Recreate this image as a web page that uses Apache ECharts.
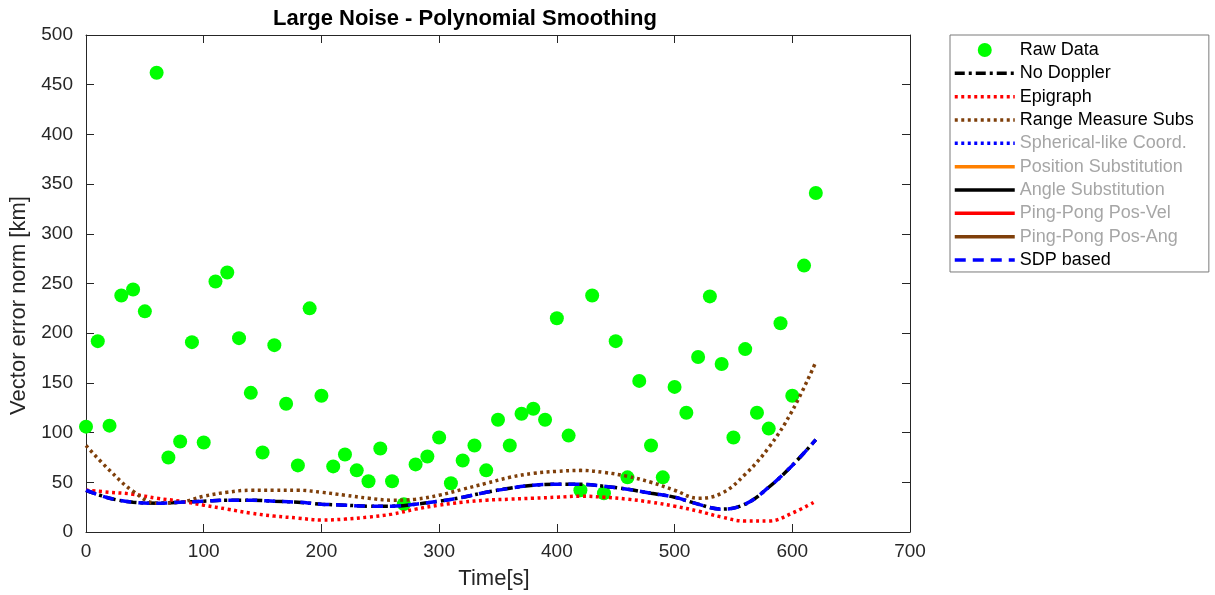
<!DOCTYPE html>
<html>
<head>
<meta charset="utf-8">
<script src="https://cdn.jsdelivr.net/npm/echarts@6/dist/echarts.min.js"></script>
<style>
html,body{margin:0;padding:0;background:#fff;}
#chart{width:1215px;height:595px;}
</style>
</head>
<body>
<div id="chart"></div>
<script>
// ---- data ----
var rawTimes = [0,10,20,30,40,50,60,70,80,90,100,110,120,130,140,150,160,170,180,190,200,210,220,230,240,250,260,270,280,290,300,310,320,330,340,350,360,370,380,390,400,410,420,430,440,450,460,470,480,490,500,510,520,530,540,550,560,570,580,590,600,610,620];
var rawData = [106,192,107,238,244,222,462,75,91,191,90,252,261,195,140,80,188,129,67,225,137,66,78,62,51,84,51,28,68,76,95,49,72,87,62,113,87,119,124,113,215,97,42,238,39,192,55,152,87,55,146,120,176,237,169,95,184,120,104,210,137,268,341];

var curveTimes = [0,20,40,60,80,100,120,140,160,180,200,220,240,260,280,300,320,340,360,380,400,420,440,460,480,500,520,540,560,580,600,620];
var noDoppler = [42,34,30,29,30,31,32,32,31,30,28,27,26,26,28,31,35,40,44,47,48,48,46,43,39,35,28,23,28,45,67,93];
var epigraph = [42,40,38,34,31,27,23,19,16,14,12,13,15,18,23,27,30,32,33,34,35,36,35,33,30,26,21,15,11,11,19,31];
var rangeMeasure = [87,62,41,29,30,36,40,42,42,42,40,37,34,32,33,37,43,49,55,59,61,62,60,56,50,42,34,39,58,85,122,171];
var sdpBased = [42,34,30,29,30,31,32,32,31,30,28,27,26,26,28,31,35,40,44,47,48,48,46,43,39,35,28,23,28,45,67,93];

var xTicks = {min:0, max:700, interval:100};
var yTicks = {min:0, max:500, interval:50};

function pairs(xs, ys){ return xs.map(function(x,i){ return [x, ys[i]]; }); }

var FONT = "'Liberation Sans', Arial, Helvetica, sans-serif";
var AXC = '#262626';
var BROWN = '#7f3f0a';

var chart = echarts.init(document.getElementById('chart'), null, {renderer:'canvas'});

var grey = {color:'#a6a6a6'};
var noSym = {opacity:0};
var thick = {width:3.5};
var option = {
  animation:false,
  backgroundColor:'#fff',
  title:{
    text:'Large Noise - Polynomial Smoothing',
    left:268, top:3,
    textStyle:{fontFamily:FONT, fontSize:22, fontWeight:'bold', color:'#000'}
  },
  legend:{
    orient:'vertical',
    left:950, top:35,
    padding:[6,15,3,3],
    itemWidth:60, itemHeight:14, itemGap:5.33,
    backgroundColor:'#fff',
    borderColor:'#7a7a7a', borderWidth:1,
    textStyle:{fontFamily:FONT, fontSize:18, color:'#000'},
    lineStyle:{width:3.5},
    data:[
      {name:'Raw Data'},
      {name:'No Doppler', itemStyle:noSym, lineStyle:thick},
      {name:'Epigraph', itemStyle:noSym, lineStyle:thick},
      {name:'Range Measure Subs', itemStyle:noSym, lineStyle:thick},
      {name:'Spherical-like Coord.', textStyle:grey, itemStyle:noSym, lineStyle:thick},
      {name:'Position Substitution', textStyle:grey, itemStyle:noSym, lineStyle:thick},
      {name:'Angle Substitution', textStyle:grey, itemStyle:noSym, lineStyle:thick},
      {name:'Ping-Pong Pos-Vel', textStyle:grey, itemStyle:noSym, lineStyle:thick},
      {name:'Ping-Pong Pos-Ang', textStyle:grey, itemStyle:noSym, lineStyle:thick},
      {name:'SDP based', itemStyle:noSym, lineStyle:thick}
    ]
  },
  grid:{left:86, right:305, top:35, bottom:62, containLabel:false},
  xAxis:[{
    type:'value', min:xTicks.min, max:xTicks.max, interval:xTicks.interval,
    position:'bottom',
    name:'Time[s]', nameLocation:'middle', nameGap:36,
    nameTextStyle:{fontFamily:FONT, fontSize:22, color:AXC, padding:[0,8,0,0]},
    axisLine:{show:true, onZero:false, lineStyle:{color:AXC, width:1}},
    axisTick:{show:true, inside:true, length:8, lineStyle:{color:AXC}},
    axisLabel:{fontFamily:FONT, fontSize:19, color:AXC, margin:10},
    splitLine:{show:false}
  },{
    type:'value', min:xTicks.min, max:xTicks.max, interval:xTicks.interval,
    position:'top',
    axisLine:{show:true, onZero:false, lineStyle:{color:AXC, width:1}},
    axisTick:{show:true, inside:true, length:8, lineStyle:{color:AXC}},
    axisLabel:{show:false},
    splitLine:{show:false}
  }],
  yAxis:[{
    type:'value', min:yTicks.min, max:yTicks.max, interval:yTicks.interval,
    position:'left',
    name:'Vector error norm [km]', nameLocation:'middle', nameGap:52, nameRotate:90,
    nameTextStyle:{fontFamily:FONT, fontSize:22, color:AXC, padding:[0,44,0,0]},
    axisLine:{show:true, onZero:false, lineStyle:{color:AXC, width:1}},
    axisTick:{show:true, inside:true, length:8, lineStyle:{color:AXC}},
    axisLabel:{fontFamily:FONT, fontSize:19, color:AXC, margin:13},
    splitLine:{show:false}
  },{
    type:'value', min:yTicks.min, max:yTicks.max, interval:yTicks.interval,
    position:'right',
    axisLine:{show:true, onZero:false, lineStyle:{color:AXC, width:1}},
    axisTick:{show:true, inside:true, length:8, lineStyle:{color:AXC}},
    axisLabel:{show:false},
    splitLine:{show:false}
  }],
  series:[
    {name:'Raw Data', type:'scatter', data:pairs(rawTimes, rawData),
     symbol:'circle', symbolSize:14, itemStyle:{color:'#00ff00', opacity:1}},
    {name:'No Doppler', type:'line', data:pairs(curveTimes, noDoppler), smooth:0.4,
     symbol:'none', lineStyle:{color:'#000', width:3.5, type:[10,4,3,4]}, itemStyle:{color:'#000'}},
    {name:'Epigraph', type:'line', data:pairs(curveTimes, epigraph), smooth:0.4,
     symbol:'none', lineStyle:{color:'#ff0000', width:3.5, type:[3,3.5]}, itemStyle:{color:'#ff0000'}},
    {name:'Range Measure Subs', type:'line', data:pairs(curveTimes, rangeMeasure), smooth:0.4,
     symbol:'none', lineStyle:{color:BROWN, width:3.5, type:[3,3.5]}, itemStyle:{color:BROWN}},
    {name:'Spherical-like Coord.', type:'line', data:[], symbol:'none',
     lineStyle:{color:'#0000ff', width:3.5, type:[3,3.5]}, itemStyle:{color:'#0000ff'}},
    {name:'Position Substitution', type:'line', data:[], symbol:'none',
     lineStyle:{color:'#ff8000', width:3, type:'solid'}, itemStyle:{color:'#ff8000'}},
    {name:'Angle Substitution', type:'line', data:[], symbol:'none',
     lineStyle:{color:'#000000', width:3, type:'solid'}, itemStyle:{color:'#000000'}},
    {name:'Ping-Pong Pos-Vel', type:'line', data:[], symbol:'none',
     lineStyle:{color:'#ff0000', width:3, type:'solid'}, itemStyle:{color:'#ff0000'}},
    {name:'Ping-Pong Pos-Ang', type:'line', data:[], symbol:'none',
     lineStyle:{color:BROWN, width:3, type:'solid'}, itemStyle:{color:BROWN}},
    {name:'SDP based', type:'line', data:pairs(curveTimes, sdpBased), smooth:0.4,
     symbol:'none', lineStyle:{color:'#0000ff', width:3.5, type:[11,7]}, itemStyle:{color:'#0000ff'}}
  ]
};
chart.setOption(option);
</script>
</body>
</html>
